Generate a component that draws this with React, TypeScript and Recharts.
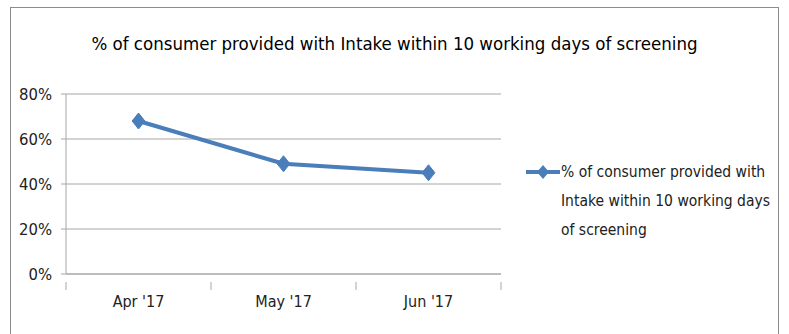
import React from 'react';
import { LineChart, Line, XAxis, YAxis, CartesianGrid } from 'recharts';

const categories = ["Apr '17", "May '17", "Jun '17"];
const values = [0.68, 0.49, 0.45];
const yTicks = [0, 0.2, 0.4, 0.6, 0.8];
const seriesName = '% of consumer provided with Intake within 10 working days of screening';
const legendLines = ['% of consumer provided with', 'Intake within 10 working days', 'of screening'];
const title = '% of consumer provided with Intake within 10 working days of screening';

const data = categories.map((c, i) => ({ month: c, value: values[i] }));

const FONT = '"DejaVu Sans Condensed", "Liberation Sans", sans-serif';
const LINE = '#4a7ebb';
const GRID = '#a6a6a6';

const Diamond = (props: any) => {
  const { cx, cy } = props;
  if (cx == null || cy == null) return null;
  const r = 8;
  return (
    <polygon
      points={`${cx},${cy - r} ${cx + r * 0.8},${cy} ${cx},${cy + r} ${cx - r * 0.8},${cy}`}
      fill={LINE}
      stroke={LINE}
      strokeWidth={1}
    />
  );
};

const XTick = (props: any) => {
  const { x, y, payload, width, visibleTicksCount, index } = props;
  const band = width / visibleTicksCount;
  return (
    <g>
      <line x1={x - band / 2} y1={y} x2={x - band / 2} y2={y + 8} stroke={GRID} strokeWidth={1} />
      {index === visibleTicksCount - 1 && (
        <line x1={x + band / 2} y1={y} x2={x + band / 2} y2={y + 8} stroke={GRID} strokeWidth={1} />
      )}
      <text x={x} y={y + 20} textAnchor="middle" dominantBaseline="middle" fill="#222" fontSize={16} fontFamily={FONT}>
        {payload.value}
      </text>
    </g>
  );
};

export default function App() {
  return (
    <div style={{ position: 'absolute', left: 0, top: 0, width: 789, height: 334, background: '#fff', overflow: 'hidden' }}>
      <div
        style={{
          position: 'absolute',
          left: 10,
          top: 7,
          width: 769,
          height: 360,
          border: '1px solid #8c8c8c',
          boxSizing: 'border-box',
        }}
      />
      <div
        style={{
          position: 'absolute',
          left: 0,
          top: 31,
          width: 789,
          textAlign: 'center',
          fontFamily: FONT,
          fontSize: 18.5,
          color: '#000',
          lineHeight: '26px',
        }}
      >
        {title}
      </div>
      <div style={{ position: 'absolute', left: 0, top: 0 }}>
        <LineChart width={789} height={334} data={data} margin={{ top: 94, right: 288, left: 0, bottom: 0 }}>
          <CartesianGrid horizontal vertical={false} stroke={GRID} strokeWidth={1} />
          <XAxis
            dataKey="month"
            scale="band"
            height={60}
            axisLine={{ stroke: GRID }}
            tickLine={false}
            tick={<XTick />}
            interval={0}
          />
          <YAxis
            width={66}
            domain={[0, 0.8]}
            ticks={yTicks}
            tickFormatter={(v: number) => `${Math.round(v * 100)}%`}
            axisLine={{ stroke: GRID }}
            tickLine={{ stroke: GRID }}
            tickSize={5}
            tickMargin={9}
            tick={{ fill: '#222', fontSize: 16.5, fontFamily: FONT }}
          />
          <Line
            type="linear"
            dataKey="value"
            name={seriesName}
            stroke={LINE}
            strokeWidth={4}
            dot={<Diamond />}
            activeDot={false}
            isAnimationActive={false}
          />
        </LineChart>
      </div>
      <div
        style={{
          position: 'absolute',
          left: 525,
          top: 158,
          display: 'flex',
          alignItems: 'flex-start',
          fontFamily: FONT,
          fontSize: 15.5,
          color: '#222',
        }}
      >
        <svg width={36} height={28}>
          <line x1={1} y1={14} x2={35} y2={14} stroke={LINE} strokeWidth={4} />
          <polygon points="18,7 24,14 18,21 12,14" fill={LINE} />
        </svg>
        <div style={{ lineHeight: '29px', whiteSpace: 'nowrap' }}>
          {legendLines.map((l) => (
            <div key={l}>{l}</div>
          ))}
        </div>
      </div>
    </div>
  );
}
